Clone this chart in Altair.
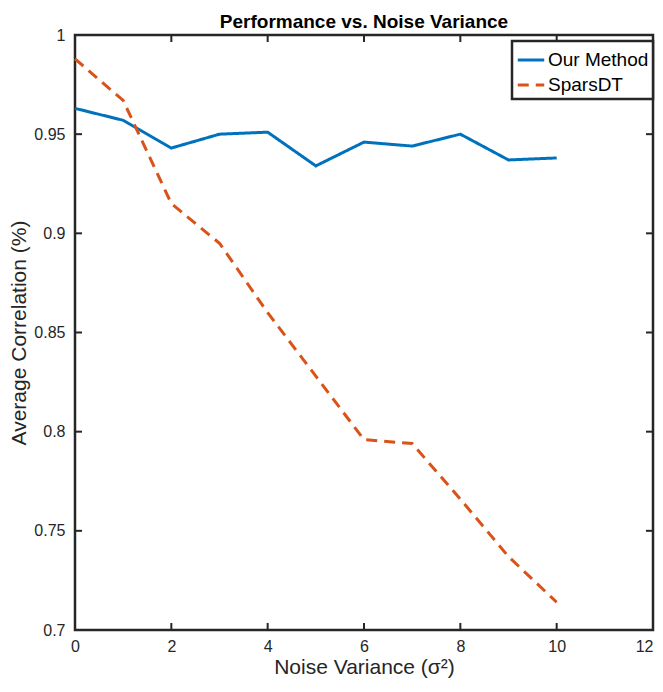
import altair as alt
import pandas as pd

noise = [0, 1, 2, 3, 4, 5, 6, 7, 8, 9, 10]
ours = [0.963, 0.957, 0.943, 0.950, 0.951, 0.934, 0.946, 0.944, 0.950, 0.937, 0.938]
spars = [0.988, 0.967, 0.915, 0.895, 0.860, 0.828, 0.796, 0.794, 0.766, 0.737, 0.714]
series = ["Our Method", "SparsDT"]
colors = ["#0072BD", "#D95319"]
x_ticks = [0, 2, 4, 6, 8, 10, 12]
y_ticks = [0.7, 0.75, 0.8, 0.85, 0.9, 0.95, 1.0]

df = pd.DataFrame(
    {"x": noise * 2, "y": ours + spars, "method": [series[0]] * len(noise) + [series[1]] * len(noise)}
)

W, H = 578, 595
FONT = "Liberation Sans"
INK = "#262626"

xs = alt.Scale(domain=[0, 12], nice=False, zero=False)
ys = alt.Scale(domain=[0.7, 1.0], nice=False, zero=False)

leg = dict(
    title=None, orient="none", legendX=437, legendY=6,
    symbolType="stroke", symbolSize=700, symbolStrokeWidth=3,
    strokeColor=INK, padding=4, fillColor="white", rowPadding=0, labelOffset=2,
)

lines = alt.Chart(df).mark_line(strokeWidth=3).encode(
    x=alt.X("x:Q", scale=xs, axis=alt.Axis(values=x_ticks, title="Noise Variance (σ²)", format="d",
                                           titlePadding=2, labelPadding=8,
                                           labelAlign={"expr": "datum.value == 12 ? 'right' : 'center'"})),
    y=alt.Y("y:Q", scale=ys, axis=alt.Axis(values=y_ticks, title="Average Correlation (%)", format="~g",
                                           titlePadding=4, labelPadding=10)),
    color=alt.Color("method:N", scale=alt.Scale(domain=series, range=colors), legend=alt.Legend(**leg)),
    strokeDash=alt.StrokeDash("method:N", scale=alt.Scale(domain=series, range=[[1, 0], [11, 7]]),
                              legend=alt.Legend(**leg)),
)

xt = pd.DataFrame({"t": x_ticks})
yt = pd.DataFrame({"t": y_ticks})
tick_style = dict(color=INK, strokeWidth=2)
bot = alt.Chart(xt).mark_rule(**tick_style).encode(x=alt.X("t:Q", scale=xs), y=alt.value(H), y2=alt.value(H - 7))
top = alt.Chart(xt).mark_rule(**tick_style).encode(x=alt.X("t:Q", scale=xs), y=alt.value(0), y2=alt.value(7))
lef = alt.Chart(yt).mark_rule(**tick_style).encode(y=alt.Y("t:Q", scale=ys), x=alt.value(0), x2=alt.value(7))
rig = alt.Chart(yt).mark_rule(**tick_style).encode(y=alt.Y("t:Q", scale=ys), x=alt.value(W), x2=alt.value(W - 7))

chart = alt.layer(bot, top, lef, rig, lines).properties(
    width=W, height=H,
    title=alt.Title("Performance vs. Noise Variance", font=FONT, fontSize=19, fontWeight="bold",
                    color="black", offset=0, dy=5),
    autosize=alt.AutoSizeParams(type="none"),
    padding={"left": 67, "top": 27, "right": 2, "bottom": 50},
).configure_view(
    stroke=INK, strokeWidth=2.5
).configure_axis(
    domain=False, grid=False, ticks=False, labelFont=FONT, titleFont=FONT,
    labelFontSize=16, titleFontSize=21, labelColor=INK, titleColor=INK,
    titleFontWeight="normal",
).configure_legend(
    labelFont=FONT, labelFontSize=19, labelColor="black", strokeWidth=2.5,
)

chart.save("out.html", embed_options={"renderer": "svg", "actions": False})
